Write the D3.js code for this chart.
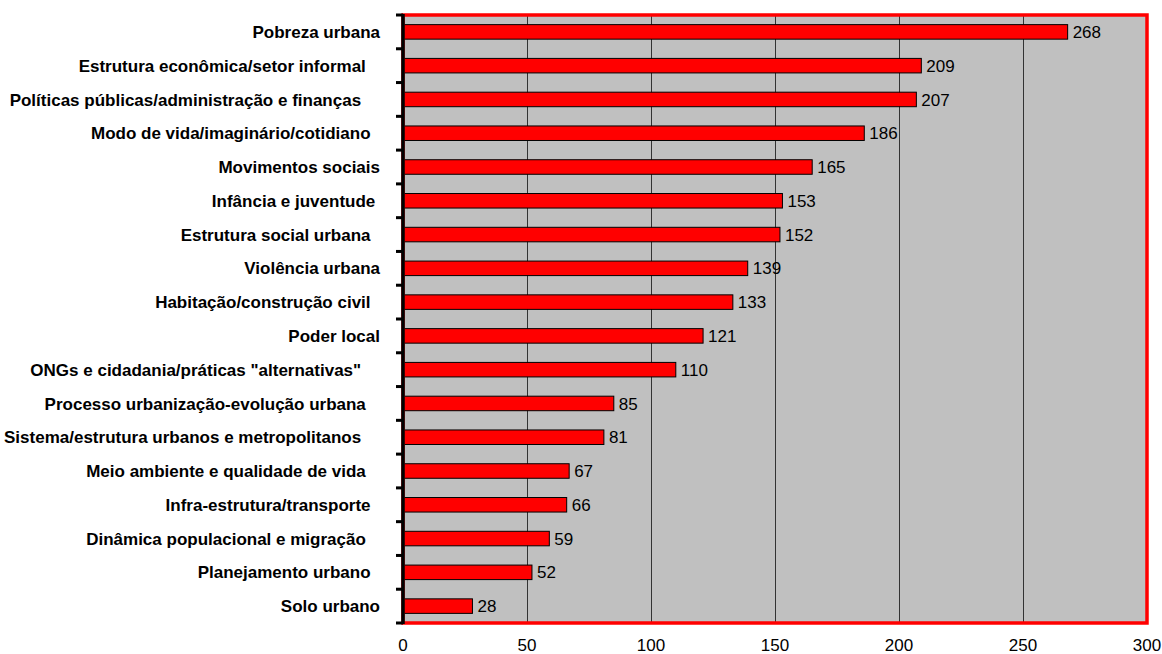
<!DOCTYPE html>
<html>
<head>
<meta charset="utf-8">
<script src="https://cdn.jsdelivr.net/npm/d3@7"></script>
<style>
  html, body { margin: 0; padding: 0; background: #fff; }
  svg { display: block; }
  text { white-space: pre; }
</style>
</head>
<body>
<svg id="chart" width="1162" height="654"></svg>
<script>
// Data
const categories = [
  "Pobreza urbana",
  "Estrutura econômica/setor informal   ",
  "Políticas públicas/administração e finanças    ",
  "Modo de vida/imaginário/cotidiano  ",
  "Movimentos sociais",
  "Infância e juventude ",
  "Estrutura social urbana  ",
  "Violência urbana",
  "Habitação/construção civil  ",
  "Poder local",
  "ONGs e cidadania/práticas \"alternativas\"    ",
  "Processo urbanização-evolução urbana   ",
  "Sistema/estrutura urbanos e metropolitanos    ",
  "Meio ambiente e qualidade de vida   ",
  "Infra-estrutura/transporte  ",
  "Dinâmica populacional e migração   ",
  "Planejamento urbano  ",
  "Solo urbano"
];
const values = [268, 209, 207, 186, 165, 153, 152, 139, 133, 121, 110, 85, 81, 67, 66, 59, 52, 28];
const xTicks = [0, 50, 100, 150, 200, 250, 300];

const svg = d3.select("#chart");
const plot = { left: 403, right: 1147, top: 15, bottom: 623 };

const x = d3.scaleLinear().domain([0, 300]).range([plot.left, plot.right]);
const y = d3.scaleBand().domain(categories).range([plot.top, plot.bottom])
  .paddingInner(0.57).paddingOuter(0.285);

// plot background
svg.append("rect")
  .attr("x", plot.left).attr("y", plot.top)
  .attr("width", plot.right - plot.left).attr("height", plot.bottom - plot.top)
  .attr("fill", "#C0C0C0");

// gridlines
svg.append("g").selectAll("line")
  .data(xTicks.filter(t => t > 0 && t < 300))
  .join("line")
  .attr("x1", d => Math.round(x(d)) + 0.5).attr("x2", d => Math.round(x(d)) + 0.5)
  .attr("y1", plot.top).attr("y2", plot.bottom)
  .attr("stroke", "#333").attr("stroke-width", 1);

// bars
svg.append("g").selectAll("rect")
  .data(values)
  .join("rect")
  .attr("x", x(0))
  .attr("y", (d, i) => y(categories[i]))
  .attr("width", d => x(d) - x(0))
  .attr("height", y.bandwidth())
  .attr("fill", "#FF0000")
  .attr("stroke", "#000")
  .attr("stroke-width", 1);

// value labels
svg.append("g").selectAll("text")
  .data(values)
  .join("text")
  .attr("x", d => x(d) + 5)
  .attr("y", (d, i) => y(categories[i]) + y.bandwidth() / 2)
  .attr("dy", "0.36em")
  .attr("font-family", "Liberation Sans, Arial, sans-serif")
  .attr("font-size", 17)
  .attr("fill", "#000")
  .text(d => d);

// red plot border
svg.append("rect")
  .attr("x", plot.left).attr("y", plot.top)
  .attr("width", plot.right - plot.left).attr("height", plot.bottom - plot.top)
  .attr("fill", "none")
  .attr("stroke", "#FF0000").attr("stroke-width", 3.5);

// left axis (thick black line with ticks at band boundaries)
const boundaries = d3.range(categories.length + 1).map(i => plot.top + i * (plot.bottom - plot.top) / categories.length);
const axisG = svg.append("g");
axisG.append("line")
  .attr("x1", plot.left).attr("x2", plot.left)
  .attr("y1", plot.top - 1).attr("y2", plot.bottom + 1)
  .attr("stroke", "#000").attr("stroke-width", 3.5);
axisG.selectAll("rect.tick")
  .data(boundaries)
  .join("rect")
  .attr("class", "tick")
  .attr("x", plot.left - 7).attr("y", d => d - 1.5)
  .attr("width", 7).attr("height", 3)
  .attr("fill", "#000");

// category labels
svg.append("g").selectAll("text")
  .data(categories)
  .join("text")
  .attr("x", 380)
  .attr("y", d => y(d) + y.bandwidth() / 2)
  .attr("dy", "0.36em")
  .attr("text-anchor", "end")
  .attr("font-family", "Liberation Sans, Arial, sans-serif")
  .attr("font-weight", "bold")
  .attr("font-size", 17)
  .attr("fill", "#000")
  .text(d => d);

// bottom tick labels
svg.append("g").selectAll("text")
  .data(xTicks)
  .join("text")
  .attr("x", d => x(d))
  .attr("y", 651)
  .attr("text-anchor", "middle")
  .attr("font-family", "Liberation Sans, Arial, sans-serif")
  .attr("font-size", 17)
  .attr("fill", "#000")
  .text(d => d);
</script>
</body>
</html>
